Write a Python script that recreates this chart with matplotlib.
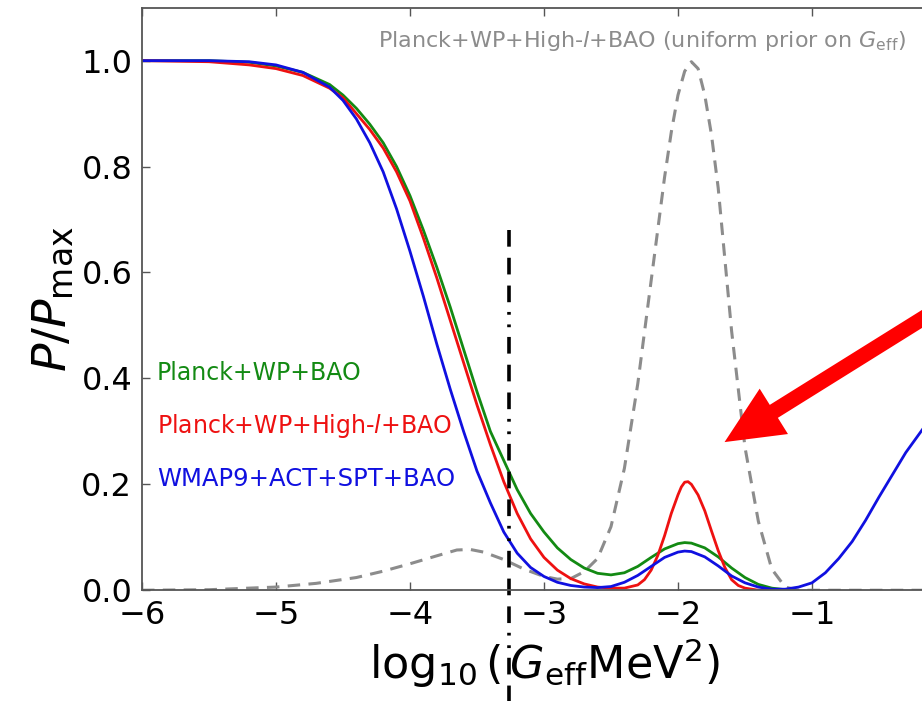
import numpy as np
import matplotlib
matplotlib.use("Agg")
import matplotlib.pyplot as plt

plt.rcParams['font.family'] = ['DejaVu Sans']
plt.rcParams['mathtext.fontset'] = 'dejavusans'
plt.rcParams['lines.scale_dashes'] = False

# log10(G_eff MeV^2) grid and normalised posteriors
x_main = [-6.0, -5.5, -5.2, -5.0, -4.8, -4.6, -4.5, -4.4, -4.3, -4.2, -4.1, -4.0,
          -3.9, -3.8, -3.7, -3.6, -3.5, -3.4, -3.3, -3.2, -3.1, -3.0, -2.9, -2.8,
          -2.7, -2.6, -2.5, -2.4, -2.3, -2.2, -2.1, -2.0, -1.95, -1.9, -1.8, -1.7,
          -1.6, -1.5, -1.4, -1.3, -1.2]

p_green = [1.0, 1.0, 0.997, 0.99, 0.978, 0.955, 0.935, 0.91, 0.88, 0.845, 0.80, 0.745,
           0.68, 0.61, 0.535, 0.455, 0.375, 0.30, 0.245, 0.19, 0.145, 0.11, 0.08, 0.058,
           0.042, 0.032, 0.029, 0.033, 0.045, 0.062, 0.078, 0.088, 0.09, 0.089, 0.08, 0.063,
           0.042, 0.024, 0.011, 0.004, 0.001]

x_red = [-6.0, -5.5, -5.2, -5.0, -4.8, -4.6, -4.5, -4.4, -4.3, -4.2, -4.1, -4.0,
         -3.9, -3.8, -3.7, -3.6, -3.5, -3.4, -3.3, -3.2, -3.1, -3.0, -2.9, -2.8,
         -2.7, -2.6, -2.5, -2.4, -2.3, -2.25, -2.2, -2.15, -2.1, -2.05, -2.0, -1.975,
         -1.95, -1.925, -1.9, -1.85, -1.8, -1.75, -1.7, -1.65, -1.6, -1.55, -1.5, -1.4, -1.2]
p_red = [1.0, 0.998, 0.992, 0.985, 0.972, 0.948, 0.93, 0.90, 0.87, 0.835, 0.79, 0.735,
         0.665, 0.59, 0.51, 0.43, 0.35, 0.275, 0.205, 0.145, 0.097, 0.062, 0.038, 0.022,
         0.012, 0.006, 0.004, 0.004, 0.01, 0.02, 0.038, 0.066, 0.103, 0.145, 0.18, 0.195,
         0.204, 0.205, 0.2, 0.18, 0.15, 0.112, 0.075, 0.043, 0.02, 0.009, 0.004, 0.0, 0.0]

x_blue = [-6.0, -5.5, -5.2, -5.0, -4.8, -4.6, -4.5, -4.4, -4.3, -4.2, -4.1, -4.0,
          -3.9, -3.8, -3.7, -3.6, -3.5, -3.4, -3.3, -3.2, -3.1, -3.0, -2.9, -2.8,
          -2.7, -2.6, -2.5, -2.4, -2.3, -2.2, -2.1, -2.0, -1.95, -1.9, -1.8, -1.7,
          -1.6, -1.5, -1.4, -1.3, -1.2, -1.1, -1.0, -0.9, -0.8, -0.7, -0.6, -0.5,
          -0.4, -0.3, -0.2, -0.1]
p_blue = [1.0, 1.0, 0.998, 0.992, 0.978, 0.95, 0.925, 0.89, 0.845, 0.79, 0.72, 0.64,
          0.555, 0.465, 0.38, 0.30, 0.225, 0.165, 0.11, 0.07, 0.043, 0.026, 0.015, 0.009,
          0.006, 0.005, 0.007, 0.015, 0.028, 0.045, 0.062, 0.072, 0.074, 0.073, 0.063, 0.046,
          0.027, 0.014, 0.006, 0.002, 0.002, 0.006, 0.014, 0.033, 0.06, 0.092, 0.132, 0.176,
          0.218, 0.26, 0.295, 0.33]

# uniform prior on G_eff
x_grey = [-6.0, -5.5, -5.0, -4.7, -4.4, -4.2, -4.0, -3.8, -3.65, -3.55, -3.45, -3.3,
          -3.15, -3.0, -2.9, -2.8, -2.7, -2.6, -2.5, -2.4, -2.3, -2.2, -2.1, -2.05,
          -2.0, -1.95, -1.9, -1.85, -1.8, -1.75, -1.7, -1.6, -1.5, -1.4, -1.3, -1.2,
          -1.1, 0.0]
p_grey = [0.0, 0.001, 0.006, 0.013, 0.024, 0.036, 0.05, 0.065, 0.076, 0.077, 0.072, 0.058,
          0.04, 0.026, 0.021, 0.022, 0.035, 0.06, 0.12, 0.23, 0.39, 0.585, 0.78, 0.865,
          0.935, 0.98, 0.998, 0.985, 0.935, 0.86, 0.76, 0.49, 0.27, 0.13, 0.04, 0.006,
          0.0, 0.0]

bound_x = -3.26
bound_y = [0.68, -0.21]

fig = plt.figure(figsize=(9.22, 7.01), dpi=100)
ax = fig.add_axes([0.154, 0.158, 0.872, 0.831])

ax.plot(x_grey, p_grey, color='#8c8c8c', lw=2.2, dashes=(9, 6))
ax.plot(x_main, p_green, color='#138a13', lw=2.0)
ax.plot(x_red, p_red, color='#ee1111', lw=2.0)
ax.plot(x_blue, p_blue, color='#1010e0', lw=2.0)

ax.plot([bound_x, bound_x], bound_y, color='black', lw=2.6, clip_on=False,
        dashes=(12, 8, 12, 8, 12, 7, 2, 7, 2, 7))

ax.set_xlim(-6, 0)
ax.set_ylim(0, 1.1)
ax.set_xticks([-6, -5, -4, -3, -2, -1])
ax.set_yticks([0.0, 0.2, 0.4, 0.6, 0.8, 1.0])
ax.set_yticklabels(['0.0', '0.2', '0.4', '0.6', '0.8', '1.0'])
ax.tick_params(direction='in', length=6, width=1, labelsize=23, color='#555555',
               top=True, right=True, pad=7)
for s in ax.spines.values():
    s.set_color('#555555')
    s.set_linewidth(1.3)

ax.set_xlabel(r'$\log_{10}(\,G_{\rm eff}{\rm MeV}^2)$', fontsize=32, labelpad=4)
ax.set_ylabel(r'$P/P_{\rm max}$', fontsize=34, labelpad=4)

ax.text(-5.89, 0.41, 'Planck+WP+BAO', color='#138a13', fontsize=17, va='center')
ax.text(-5.89, 0.311, r'Planck+WP+High-$l$+BAO', color='#ee1111', fontsize=17, va='center')
ax.text(-5.89, 0.211, 'WMAP9+ACT+SPT+BAO', color='#1010e0', fontsize=17.5, va='center')
ax.text(-4.24, 1.038, r'Planck+WP+High-$l$+BAO (uniform prior on $G_{\rm eff}$)',
        color='#8c8c8c', fontsize=16, va='center')

ax.annotate('', xy=(-1.67, 0.277), xytext=(0.06, 0.55), annotation_clip=False,
            arrowprops=dict(arrowstyle='simple,head_width=3.5,head_length=3.8,tail_width=1.0',
                            mutation_scale=11, color='red', lw=0, clip_on=False))

fig.savefig('out.png', dpi=100)
